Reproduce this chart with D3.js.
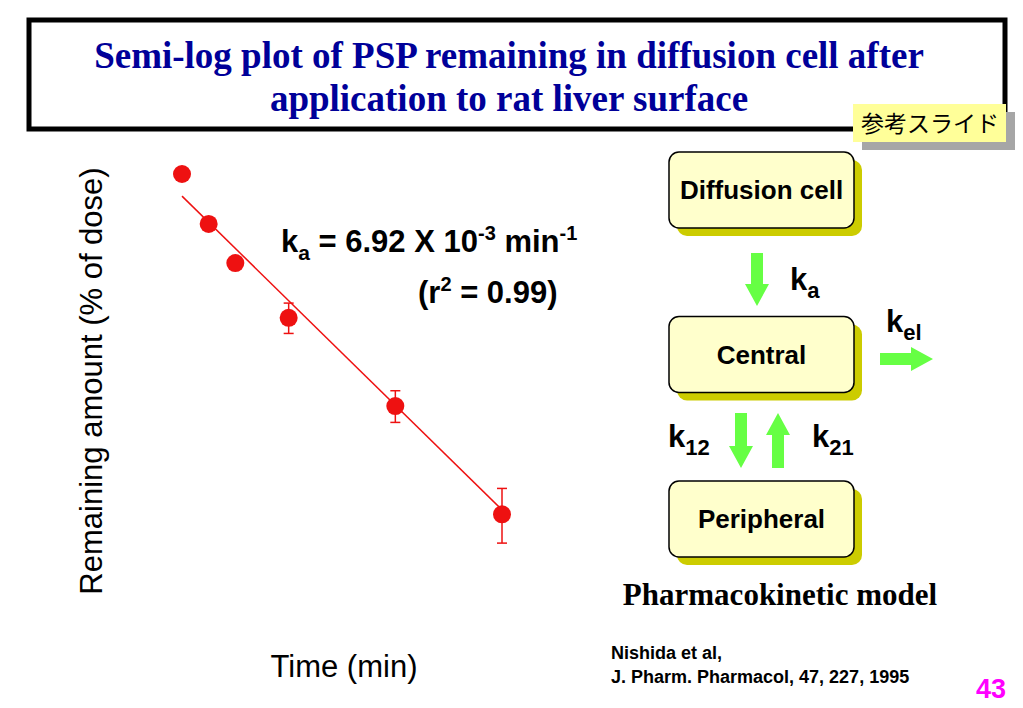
<!DOCTYPE html>
<html lang="ja">
<head>
<meta charset="UTF-8">
<title>Semi-log plot of PSP remaining</title>
<script src="https://d3js.org/d3.v7.min.js"></script>
<style>
  body { margin: 0; background: #fff; }
  svg { display: block; }
  .sans { font-family: "Liberation Sans", Arial, sans-serif; }
  .serif { font-family: "Liberation Serif", "Times New Roman", serif; }
</style>
</head>
<body>
<svg id="chart" width="1023" height="708"></svg>
<script>
// sampling times (min) and PSP remaining (% of dose)
const times = [0, 15, 30, 60, 120, 180];
const remaining = [100, 82.0, 70.2, 56.5, 39.8, 25.9];
const errors = [0, 0, 0, 3.4, 2.5, 2.8];
// fitted mono-exponential: C = C0 * exp(-ka t)
const fitC0 = 91.6;
const ka = 6.92e-3;
const fitTimes = [0, 180];

const titleLines = ["Semi-log plot of PSP remaining in diffusion cell after",
                    "application to rat liver surface"];
const compartments = ["Diffusion cell", "Central", "Peripheral"];

const svg = d3.select("#chart");
const red = "#ee1111";

// ---- title box
svg.append("rect").attr("x", 29).attr("y", 20).attr("width", 976).attr("height", 109)
    .attr("fill", "#fff").attr("stroke", "#000").attr("stroke-width", 5);
svg.selectAll("text.title").data(titleLines).enter().append("text")
    .attr("class", "title serif")
    .attr("x", 509).attr("y", (d, i) => 68 + i * 43)
    .attr("text-anchor", "middle")
    .attr("font-size", 37).attr("font-weight", "bold")
    .attr("fill", "#000099")
    .text(d => d);

// ---- 参考スライド stamp
svg.append("rect").attr("x", 862).attr("y", 112).attr("width", 153).attr("height", 38).attr("fill", "#a6a6a6");
svg.append("rect").attr("x", 853).attr("y", 104).attr("width", 153).attr("height", 38).attr("fill", "#ffff99");
svg.append("text").attr("x", 930).attr("y", 132).attr("text-anchor", "middle")
    .attr("font-family", "'Noto Sans CJK JP', sans-serif").attr("font-size", 23)
    .attr("fill", "#000").text("参考スライド");

// ---- scatter plot (no axes drawn)
const x = d3.scaleLinear().domain([0, 180]).range([182, 502]);
const y = d3.scaleLog().domain([20, 100]).range([174 + 580 * Math.log10(5), 174]);

const fitLine = d3.line().x(t => x(t)).y(t => y(fitC0 * Math.exp(-ka * t)));
svg.append("path").attr("d", fitLine(fitTimes))
    .attr("fill", "none").attr("stroke", red).attr("stroke-width", 1.5);

const pts = times.map((t, i) => ({ t: t, v: remaining[i], e: errors[i] }));
const eb = svg.append("g").attr("stroke", red).attr("stroke-width", 1.5);
pts.filter(d => d.e > 0).forEach(d => {
  const cx = x(d.t), y1 = y(d.v + d.e), y2 = y(d.v - d.e);
  eb.append("line").attr("x1", cx).attr("x2", cx).attr("y1", y1).attr("y2", y2);
  eb.append("line").attr("x1", cx - 5).attr("x2", cx + 5).attr("y1", y1).attr("y2", y1);
  eb.append("line").attr("x1", cx - 5).attr("x2", cx + 5).attr("y1", y2).attr("y2", y2);
});
svg.selectAll("circle.pt").data(pts).enter().append("circle")
    .attr("class", "pt")
    .attr("cx", d => x(d.t)).attr("cy", d => y(d.v)).attr("r", 9)
    .attr("fill", red);

// axis titles
svg.append("text").attr("class", "sans")
    .attr("transform", "translate(102,381) rotate(-90)")
    .attr("text-anchor", "middle").attr("font-size", 31)
    .text("Remaining amount (% of dose)");
svg.append("text").attr("class", "sans")
    .attr("x", 344).attr("y", 677).attr("text-anchor", "middle").attr("font-size", 31)
    .text("Time (min)");

// rate constant annotation
const eq = svg.append("text").attr("class", "sans").attr("x", 281).attr("y", 252)
    .attr("font-size", 31).attr("font-weight", "bold");
eq.append("tspan").text("k");
eq.append("tspan").attr("font-size", 21).attr("dy", 8).text("a");
eq.append("tspan").attr("dy", -8).text(" = 6.92 X 10");
eq.append("tspan").attr("font-size", 20).attr("dy", -12).text("-3");
eq.append("tspan").attr("dy", 12).text(" min");
eq.append("tspan").attr("font-size", 20).attr("dy", -12).text("-1");
const r2 = svg.append("text").attr("class", "sans").attr("x", 418).attr("y", 303)
    .attr("font-size", 31).attr("font-weight", "bold");
r2.append("tspan").text("(r");
r2.append("tspan").attr("font-size", 20).attr("dy", -12).text("2");
r2.append("tspan").attr("dy", 12).text(" = 0.99)");

// ---- pharmacokinetic model diagram
const boxY = d3.scalePoint().domain(compartments).range([152, 481]);
const bw = 185, bh = 76, bx = 669;
const boxes = svg.selectAll("g.box").data(compartments).enter().append("g").attr("class", "box")
    .attr("transform", d => `translate(${bx},${boxY(d)})`);
boxes.append("rect").attr("x", 8).attr("y", 8).attr("width", bw).attr("height", bh).attr("rx", 10)
    .attr("fill", "#cccc00");
boxes.append("rect").attr("width", bw).attr("height", bh).attr("rx", 10)
    .attr("fill", "#ffffcc").attr("stroke", "#000").attr("stroke-width", 1.5);
boxes.append("text").attr("class", "sans")
    .attr("x", bw / 2).attr("y", bh / 2 + 9).attr("text-anchor", "middle")
    .attr("font-size", 26).attr("font-weight", "bold").text(d => d);

const green = "#66ff44";
// vertical arrow: x center, y start, y end (tip)
function vArrow(cx, y0, y1) {
  const dir = y1 > y0 ? 1 : -1, hl = 22 * dir;
  const p = [[cx - 6, y0], [cx + 6, y0], [cx + 6, y1 - hl], [cx + 12, y1 - hl], [cx, y1],
             [cx - 12, y1 - hl], [cx - 6, y1 - hl]];
  svg.append("polygon").attr("points", p.join(" ")).attr("fill", green);
}
function hArrow(cy, x0, x1) {
  const p = [[x0, cy - 6], [x1 - 22, cy - 6], [x1 - 22, cy - 12], [x1, cy],
             [x1 - 22, cy + 12], [x1 - 22, cy + 6], [x0, cy + 6]];
  svg.append("polygon").attr("points", p.join(" ")).attr("fill", green);
}
vArrow(757, 253, 306);
hArrow(359, 880, 933);
vArrow(741, 413, 468);
vArrow(778, 468, 413);

function kLabel(xp, yp, sub) {
  const t = svg.append("text").attr("class", "sans").attr("x", xp).attr("y", yp)
      .attr("font-size", 31).attr("font-weight", "bold");
  t.append("tspan").text("k");
  t.append("tspan").attr("font-size", 22).attr("dy", 8).text(sub);
}
kLabel(790, 290, "a");
kLabel(886, 332, "el");
kLabel(668, 447, "12");
kLabel(812, 447, "21");

svg.append("text").attr("class", "serif").attr("x", 780).attr("y", 605)
    .attr("text-anchor", "middle").attr("font-size", 31).attr("font-weight", "bold")
    .text("Pharmacokinetic model");

// ---- citation and page number
svg.append("text").attr("class", "sans").attr("x", 611).attr("y", 659)
    .attr("font-size", 18).attr("font-weight", "bold").text("Nishida et al,");
svg.append("text").attr("class", "sans").attr("x", 611).attr("y", 683)
    .attr("font-size", 18).attr("font-weight", "bold").text("J. Pharm. Pharmacol, 47, 227, 1995");
svg.append("text").attr("class", "sans").attr("x", 1006).attr("y", 698)
    .attr("text-anchor", "end").attr("font-size", 27).attr("font-weight", "bold")
    .attr("fill", "#ff00ff").text("43");
</script>
</body>
</html>
